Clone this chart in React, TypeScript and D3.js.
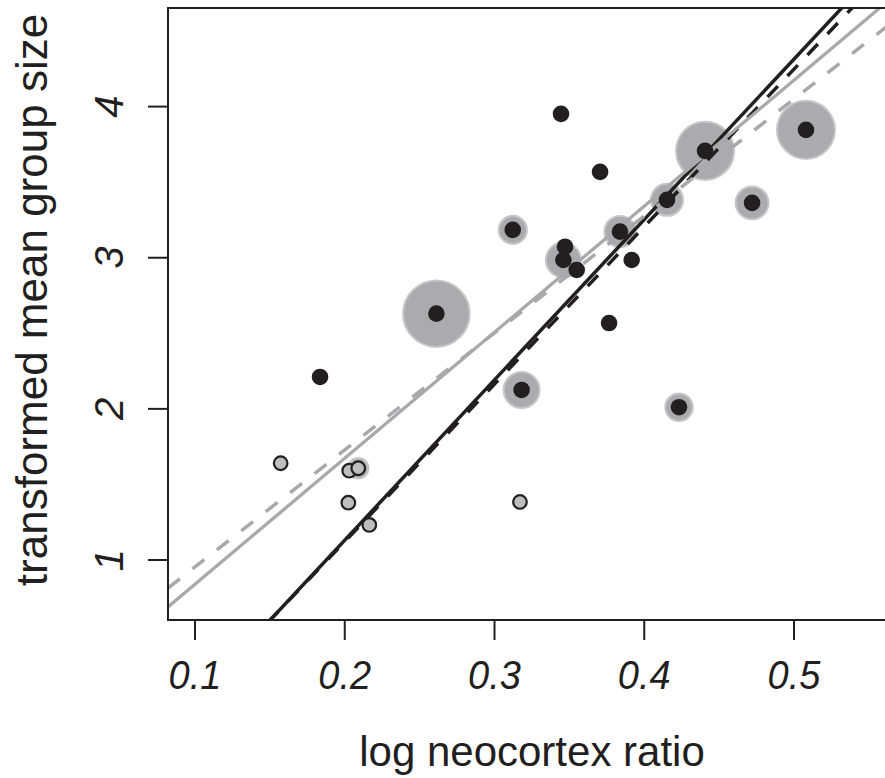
import React from "react";
import * as d3 from "d3";

// black points: log neocortex ratio, transformed group size, halo (in y units)
const blackX = [0.1835, 0.2612, 0.3122, 0.3181, 0.3444, 0.3471, 0.346, 0.3549, 0.3705, 0.3765, 0.3838, 0.3916, 0.4152, 0.4406, 0.472, 0.508, 0.4232];
const blackY = [2.211, 2.63, 3.184, 2.125, 3.952, 3.073, 2.985, 2.919, 3.568, 2.568, 3.173, 2.985, 3.383, 3.707, 3.363, 3.846, 2.011];
const blackHalo = [0, 0.22, 0.093, 0.119, 0, 0, 0.116, 0, 0, 0, 0.103, 0, 0.106, 0.192, 0.109, 0.192, 0.091];

// grey points
const greyX = [0.1572, 0.203, 0.209, 0.2024, 0.2164, 0.317];
const greyY = [1.64, 1.591, 1.607, 1.379, 1.232, 1.384];
const greyHalo = [0, 0, 0.068, 0, 0, 0];

// fitted lines: intercept, slope
const fitNames = ["blackSolid", "blackDashed", "greySolid", "greyDashed"];
const fitIntercept = [-0.991, -0.962, 0.0053, 0.18];
const fitSlope = [10.61, 10.42, 8.34, 7.74];

const xTicks = [0.1, 0.2, 0.3, 0.4, 0.5];
const yTicks = [1, 2, 3, 4];

const W = 885;
const H = 778;
const left = 168, top = 8, bottom = 620, right = 900;

const ink = "#231f20";
const grey = "#a7a9ac";
const font = "'Liberation Sans', Arial, Helvetica, sans-serif";

const fitStyle: Record<string, { stroke: string; dash?: string; width: number }> = {
	blackSolid: { stroke: ink, width: 3.5 },
	blackDashed: { stroke: ink, dash: "15 14", width: 3.5 },
	greySolid: { stroke: grey, width: 3.3 },
	greyDashed: { stroke: grey, dash: "15 16", width: 3.5 },
};

export default function App() {
	const x = d3.scaleLinear().domain([0.1, 0.5]).range([195, 794]);
	const y = d3.scaleLinear().domain([1, 4]).range([560, 106.6]);
	const haloR = (h: number) => y(0) - y(h);

	const x0 = x.invert(left);
	const x1 = x.invert(right);
	const line = d3
		.line<number>()
		.x((d) => x(d[0]))
		.y((d) => y(d[1]));

	const black = blackX.map((v, i) => ({ x: v, y: blackY[i], h: blackHalo[i] }));
	const greys = greyX.map((v, i) => ({ x: v, y: greyY[i], h: greyHalo[i] }));

	return (
		<svg width={W} height={H} style={{ display: "block", position: "absolute", left: 0, top: 0 }}>
			<rect width={W} height={H} fill="#fff" />
			<defs>
				<clipPath id="plot">
					<rect x={left} y={top} width={right - left} height={bottom - top} />
				</clipPath>
			</defs>
			<g clipPath="url(#plot)">
				{[...black, ...greys]
					.filter((d) => d.h > 0)
					.map((d, i) => (
						<circle key={"h" + i} cx={x(d.x)} cy={y(d.y)} r={haloR(d.h)} fill="#a9abae" stroke="#c6c7c9" strokeWidth={2} />
					))}
				{fitNames.map((n, i) => {
					const s = fitStyle[n];
					const pts: any = [x0, x1].map((v) => [v, fitIntercept[i] + fitSlope[i] * v]);
					return (
						<path key={n} d={line(pts) || ""} fill="none" stroke={s.stroke} strokeWidth={s.width} strokeDasharray={s.dash} />
					);
				})}
				{greys.map((d, i) => (
					<circle key={"g" + i} cx={x(d.x)} cy={y(d.y)} r={6.8} fill="#bcbec0" stroke={ink} strokeWidth={2.2} />
				))}
				{black.map((d, i) => (
					<circle key={"b" + i} cx={x(d.x)} cy={y(d.y)} r={8.3} fill={ink} />
				))}
			</g>
			<rect x={left} y={top} width={right - left} height={bottom - top} fill="none" stroke={ink} strokeWidth={2} />
			{xTicks.map((t) => (
				<g key={t} transform={`translate(${x(t)},0)`}>
					<line y1={bottom} y2={bottom + 20} stroke={ink} strokeWidth={2} />
					<text transform="translate(0,689) scale(0.95,1.03)" textAnchor="middle" fontFamily={font} fontStyle="italic" fontSize={40} fill={ink}>
						{t.toFixed(1)}
					</text>
				</g>
			))}
			{yTicks.map((t) => (
				<g key={t} transform={`translate(0,${y(t)})`}>
					<line x1={left} x2={left - 20} stroke={ink} strokeWidth={2} />
					<text transform="translate(123,0) rotate(-90)" textAnchor="middle" fontFamily={font} fontStyle="italic" fontSize={40} fill={ink}>
						{t}
					</text>
				</g>
			))}
			<text x={532} y={766} textAnchor="middle" fontFamily={font} fontSize={42} fill={ink}>
				log neocortex ratio
			</text>
			<text transform="translate(47,300) rotate(-90)" textAnchor="middle" fontFamily={font} fontSize={44} fill={ink}>
				transformed mean group size
			</text>
		</svg>
	);
}
